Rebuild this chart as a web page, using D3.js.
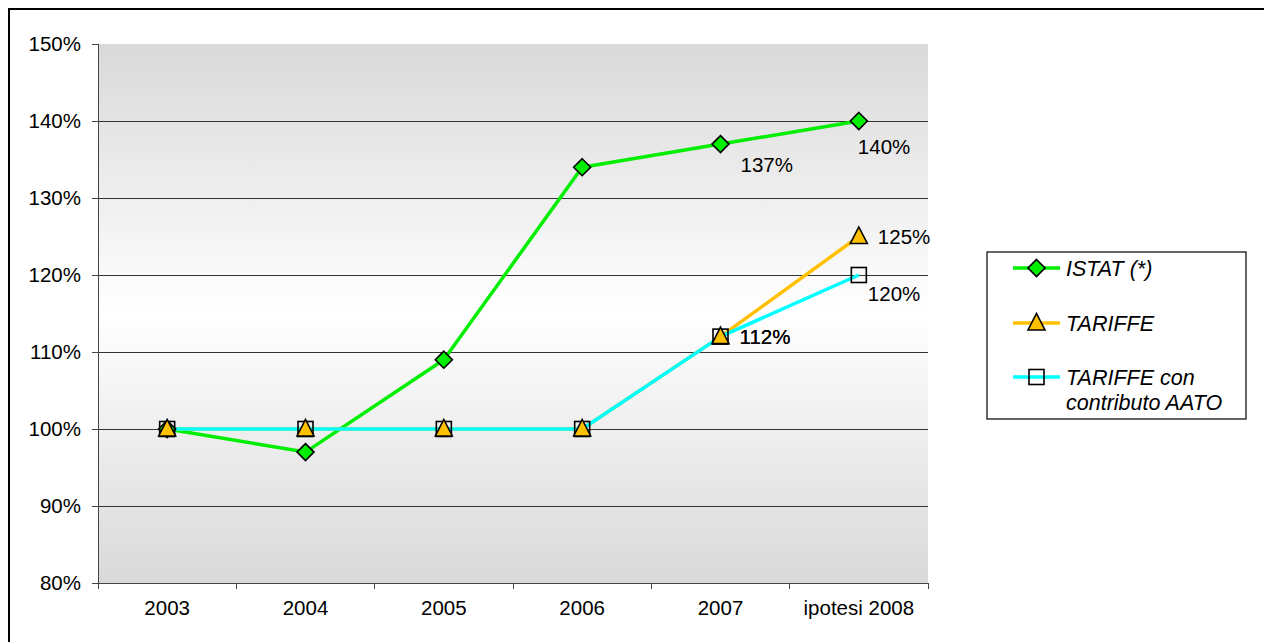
<!DOCTYPE html>
<html>
<head>
<meta charset="utf-8">
<script src="https://cdn.jsdelivr.net/npm/d3@7"></script>
<style>
  body { margin: 0; background: #fff; }
  svg { display: block; font-family: "Liberation Sans", Arial, sans-serif; }
</style>
</head>
<body>
<svg id="chart" width="1264" height="642"></svg>
<script>
"use strict";

// categories and series
const years = ["2003", "2004", "2005", "2006", "2007", "ipotesi 2008"];
const istat = [100, 97, 109, 134, 137, 140];
const tariffe = [100, 100, 100, 100, 112, 125];
const tariffeAato = [100, 100, 100, 100, 112, 120];
const yTicks = [80, 90, 100, 110, 120, 130, 140, 150];
const seriesNames = ["ISTAT (*)", "TARIFFE", "TARIFFE con contributo AATO"];

// which points carry a value label: [series index, point index, placement]
const valueLabels = [
    [0, 4, "belowRight"],
    [0, 5, "below"],
    [1, 5, "right"],
    [1, 4, "right"],
    [2, 4, "right"],
    [2, 5, "belowRight2"]
];

const svg = d3.select("#chart");
const plot = {left: 98, right: 928, top: 44, bottom: 583};
const fontSize = 20.5;

const x = d3.scaleBand().domain(years).range([plot.left, plot.right]);
const y = d3.scaleLinear().domain([80, 150]).range([plot.bottom, plot.top]);
const cx = (i) => x(years[i]) + x.bandwidth() / 2;

// outer frame (right/bottom edges run off the picture)
svg.append("rect")
    .attr("x", 9).attr("y", 9)
    .attr("width", 1400).attr("height", 800)
    .attr("fill", "none").attr("stroke", "#000").attr("stroke-width", 2);

// plot background gradient
const defs = svg.append("defs");
const grad = defs.append("linearGradient")
    .attr("id", "bg").attr("x1", 0).attr("y1", 0).attr("x2", 0).attr("y2", 1);
grad.append("stop").attr("offset", "0%").attr("stop-color", "#d9d9d9");
grad.append("stop").attr("offset", "50%").attr("stop-color", "#ffffff");
grad.append("stop").attr("offset", "100%").attr("stop-color", "#d9d9d9");

svg.append("rect")
    .attr("x", plot.left).attr("y", plot.top)
    .attr("width", plot.right - plot.left).attr("height", plot.bottom - plot.top)
    .attr("fill", "url(#bg)");

// gridlines
svg.append("g")
    .selectAll("line")
    .data(yTicks.filter(t => t > 80 && t < 150))
    .enter().append("line")
    .attr("x1", plot.left).attr("x2", plot.right)
    .attr("y1", d => y(d)).attr("y2", d => y(d))
    .attr("stroke", "#333").attr("stroke-width", 1)
    .attr("shape-rendering", "crispEdges");

// y axis
const yAxis = svg.append("g")
    .attr("transform", "translate(" + plot.left + ",0)")
    .call(d3.axisLeft(y).tickValues(yTicks).tickSize(6).tickPadding(11)
        .tickFormat(d => d + "%"));
// x axis, ticks at the band edges
const xAxis = svg.append("g")
    .attr("transform", "translate(0," + plot.bottom + ")")
    .call(d3.axisBottom(x).tickSize(0).tickPadding(17));
xAxis.selectAll(".tickEdge")
    .data(d3.range(years.length + 1))
    .enter().append("line")
    .attr("class", "tickEdge")
    .attr("x1", i => plot.left + i * x.bandwidth())
    .attr("x2", i => plot.left + i * x.bandwidth())
    .attr("y1", 0).attr("y2", 6);

[yAxis, xAxis].forEach(a => {
    a.selectAll("path.domain").attr("stroke", "#444").attr("shape-rendering", "crispEdges");
    a.selectAll("line").attr("stroke", "#444").attr("shape-rendering", "crispEdges");
    a.selectAll("text").attr("font-size", fontSize).attr("fill", "#000")
        .attr("font-family", "Liberation Sans, Arial, sans-serif");
});
yAxis.select("path.domain").attr("d", "M0," + plot.bottom + "V" + plot.top);
xAxis.select("path.domain").attr("d", "M" + plot.left + ",0H" + plot.right);

// lines
const series = [istat, tariffe, tariffeAato];
const colours = ["#00ee00", "#ffc000", "#00ffff"];
const line = d3.line().x((d, i) => cx(i)).y(d => y(d));

series.forEach((s, k) => {
    svg.append("path")
        .datum(s)
        .attr("d", line)
        .attr("fill", "none")
        .attr("stroke", colours[k])
        .attr("stroke-width", 3.5)
        .attr("stroke-linejoin", "round");
});

// marker shapes
function marker(sel, k) {
    if (k === 0) {
        sel.append("path").attr("d", "M0,-8.5L8.5,0L0,8.5L-8.5,0Z")
            .attr("fill", "#00ee00").attr("stroke", "#000").attr("stroke-width", 1.6);
    } else if (k === 1) {
        sel.append("path").attr("d", "M0,-9.5L8.5,7L-8.5,7Z")
            .attr("fill", "#ffc000").attr("stroke", "#000").attr("stroke-width", 1.6);
    } else {
        sel.append("rect").attr("x", -7.5).attr("y", -7.5).attr("width", 15).attr("height", 15)
            .attr("fill", "none").attr("stroke", "#000").attr("stroke-width", 1.6);
    }
}

[0, 2, 1].forEach(k => {
    series[k].forEach((v, i) => {
        const g = svg.append("g").attr("transform", "translate(" + cx(i) + "," + y(v) + ")");
        marker(g, k);
    });
});

// value labels
const placements = {
    belowRight: {dx: 20, dy: 28},
    below: {dx: -1, dy: 33},
    right: {dx: 19, dy: 7},
    belowRight2: {dx: 9, dy: 26}
};
valueLabels.forEach(([k, i, p]) => {
    const v = series[k][i];
    svg.append("text")
        .attr("x", cx(i) + placements[p].dx)
        .attr("y", y(v) + placements[p].dy)
        .attr("font-size", fontSize)
        .attr("fill", "#000")
        .text(v + "%");
});

// legend
const legend = svg.append("g");
legend.append("rect")
    .attr("x", 987).attr("y", 252).attr("width", 259).attr("height", 167)
    .attr("fill", "#fff").attr("stroke", "#000").attr("stroke-width", 1.2);
const rowY = [268, 323, 377];
seriesNames.forEach((name, k) => {
    legend.append("line")
        .attr("x1", 1013).attr("x2", 1060)
        .attr("y1", rowY[k]).attr("y2", rowY[k])
        .attr("stroke", colours[k]).attr("stroke-width", 3.5);
    const m = legend.append("g").attr("transform", "translate(1036.5," + rowY[k] + ")");
    marker(m, k);
    const words = k === 2 ? ["TARIFFE con", "contributo AATO"] : [name];
    const t = legend.append("text")
        .attr("x", 1066).attr("y", rowY[k] + 7.5)
        .attr("font-size", 21.5).attr("font-style", "italic").attr("fill", "#000");
    words.forEach((w, j) => {
        t.append("tspan").attr("x", 1066).attr("dy", j === 0 ? 0 : 25).text(w);
    });
});
</script>
</body>
</html>
